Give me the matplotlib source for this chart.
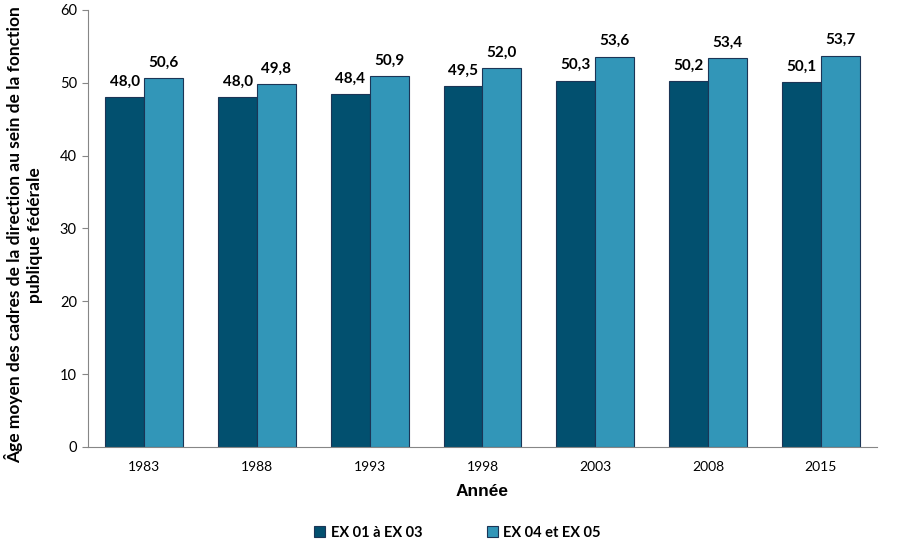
import matplotlib
matplotlib.use("Agg")
import matplotlib.pyplot as plt
import numpy as np

plt.rcParams['font.family'] = ['Lato', 'DejaVu Sans']

annees = ["1983", "1988", "1993", "1998", "2003", "2008", "2015"]
ex01_03 = [48.0, 48.0, 48.4, 49.5, 50.3, 50.2, 50.1]
ex04_05 = [50.6, 49.8, 50.9, 52.0, 53.6, 53.4, 53.7]
series = ["EX 01 à EX 03", "EX 04 et EX 05"]

c_fonce = "#02506F"
c_clair = "#3296B8"
c_bord = "#1B3556"

fig = plt.figure(figsize=(9.06, 5.55), dpi=100)
ax = fig.add_axes([0.0971, 0.1946, 0.8709, 0.7874])

x = np.arange(len(annees))
w = 0.345
b1 = ax.bar(x - w / 2, ex01_03, w, color=c_fonce, edgecolor=c_bord, linewidth=0.8, label=series[0])
b2 = ax.bar(x + w / 2, ex04_05, w, color=c_clair, edgecolor=c_bord, linewidth=0.8, label=series[1])

for bars, vals in ((b1, ex01_03), (b2, ex04_05)):
    for r, v in zip(bars, vals):
        ax.text(r.get_x() + r.get_width() / 2, v + 1.2, f"{v:.1f}".replace(".", ","),
                ha="center", va="bottom", fontsize=11, fontweight="bold")

ax.set_xlim(-0.5, len(annees) - 0.5)
ax.set_ylim(0, 60)
ax.set_yticks(range(0, 61, 10))
ax.set_xticks(x)
ax.set_xticklabels(annees)
ax.tick_params(axis="x", length=0, labelsize=10, pad=10)
ax.tick_params(axis="y", length=4, color="#868686", labelsize=10.5, pad=4)

for s in ("top", "right"):
    ax.spines[s].set_visible(False)
for s in ("left", "bottom"):
    ax.spines[s].set_color("#868686")

ax.set_xlabel("Année", fontsize=12.5, fontweight="bold", labelpad=8, family=["Liberation Sans", "DejaVu Sans"])
ax.set_ylabel("Âge moyen des cadres de la direction au sein de la fonction\npublique fédérale",
              fontsize=12.5, fontweight="bold", labelpad=6, linespacing=1.3)
ax.yaxis.set_label_coords(-0.057, 0.485)

fig.legend(handles=[b1, b2], labels=series, loc="center", bbox_to_anchor=(0.505, 0.04),
           ncol=2, frameon=False, prop={"weight": "bold", "size": 10.5},
           handlelength=0.75, handleheight=0.75, handletextpad=0.4, columnspacing=4.4)

fig.savefig("out.png", dpi=100)
